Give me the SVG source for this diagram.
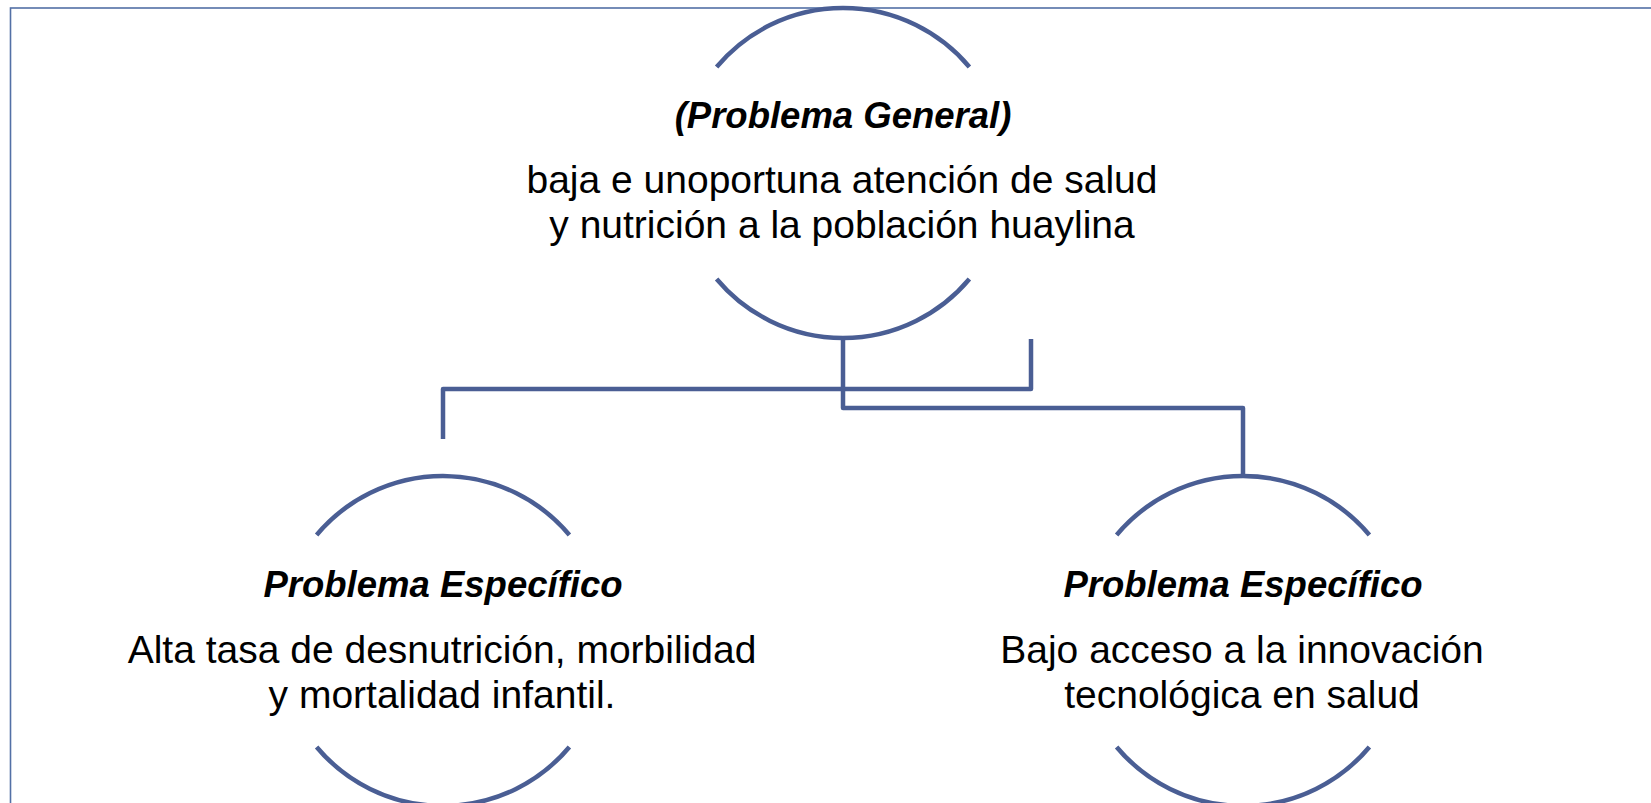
<svg xmlns="http://www.w3.org/2000/svg" width="1651" height="803" viewBox="0 0 1651 803">
<style>
.frame{fill:none;stroke:#5370a6;stroke-width:1.6}
.arc{fill:none;stroke:#4a5e94;stroke-width:4.5;stroke-linecap:butt}
.conn{fill:none;stroke:#4a5e94;stroke-width:4.5;stroke-linejoin:round}
.title{font-family:"Liberation Sans",Arial,sans-serif;font-weight:bold;font-style:italic;font-size:36.5px;fill:#000;text-anchor:middle}
.body{font-family:"Liberation Sans",Arial,sans-serif;font-size:39px;fill:#000;text-anchor:middle}
</style>
<rect width="1651" height="803" fill="#fff"/>
<rect class="frame" x="10.5" y="8" width="1700" height="900"/>
<g id="connectors">
<path class="conn" d="M1031 339 V389 H443 V439"/>
<path class="conn" d="M843 338 V408 H1243 V476"/>
</g>
<g id="node-general">
<path class="arc" d="M716.6 67 A165 165 0 0 1 969.4 67"/>
<path class="arc" d="M716.6 279 A165 165 0 0 0 969.4 279"/>
<text class="title" x="843" y="128">(Problema General)</text>
<text class="body" x="842" y="193">baja e unoportuna atención de salud</text>
<text class="body" x="842" y="238">y nutrición a la población huaylina</text>
</g>
<g id="node-especifico-1">
<path class="arc" d="M316.6 535 A165 165 0 0 1 569.4 535"/>
<path class="arc" d="M316.6 747 A165 165 0 0 0 569.4 747"/>
<text class="title" x="443" y="597">Problema Específico</text>
<text class="body" x="442" y="663">Alta tasa de desnutrición, morbilidad</text>
<text class="body" x="442" y="708">y mortalidad infantil.</text>
</g>
<g id="node-especifico-2">
<path class="arc" d="M1116.6 535 A165 165 0 0 1 1369.4 535"/>
<path class="arc" d="M1116.6 747 A165 165 0 0 0 1369.4 747"/>
<text class="title" x="1243" y="597">Problema Específico</text>
<text class="body" x="1242" y="663">Bajo acceso a la innovación</text>
<text class="body" x="1242" y="708">tecnológica en salud</text>
</g>
</svg>
